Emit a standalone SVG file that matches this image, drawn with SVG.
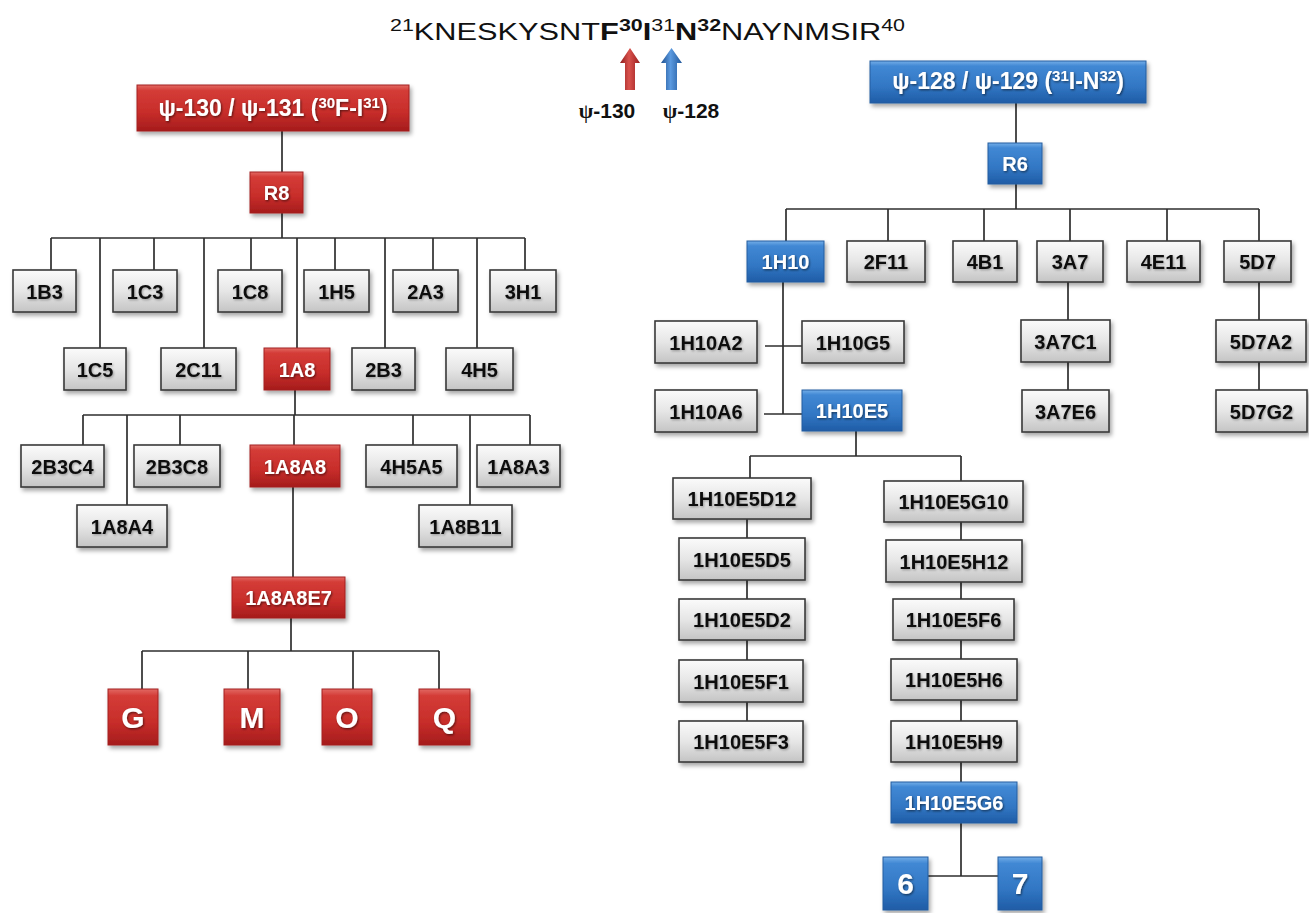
<svg xmlns="http://www.w3.org/2000/svg" width="1309" height="913" viewBox="0 0 1309 913">
<defs>
<linearGradient id="gGray" x1="0" y1="0" x2="0" y2="1">
<stop offset="0" stop-color="#fbfbfb"/><stop offset="0.5" stop-color="#e6e6e6"/><stop offset="1" stop-color="#c4c4c4"/>
</linearGradient>
<linearGradient id="gRed" x1="0" y1="0" x2="0" y2="1">
<stop offset="0" stop-color="#e26a64"/><stop offset="0.12" stop-color="#d43c37"/><stop offset="0.6" stop-color="#c72d2a"/><stop offset="1" stop-color="#a51c1c"/>
</linearGradient>
<linearGradient id="gBlue" x1="0" y1="0" x2="0" y2="1">
<stop offset="0" stop-color="#74aee8"/><stop offset="0.12" stop-color="#4188d4"/><stop offset="0.6" stop-color="#3277c4"/><stop offset="1" stop-color="#1f5ca6"/>
</linearGradient>
<linearGradient id="aRed" x1="0" y1="0" x2="1" y2="0">
<stop offset="0" stop-color="#8e1a1a"/><stop offset="0.45" stop-color="#d9524d"/><stop offset="1" stop-color="#9a1e1e"/>
</linearGradient>
<linearGradient id="aBlue" x1="0" y1="0" x2="1" y2="0">
<stop offset="0" stop-color="#1d4f8f"/><stop offset="0.45" stop-color="#5b9ae0"/><stop offset="1" stop-color="#21579a"/>
</linearGradient>
<filter id="sh" x="-20%" y="-20%" width="140%" height="150%">
<feDropShadow dx="2" dy="3" stdDeviation="2" flood-color="#000" flood-opacity="0.35"/>
</filter>
<filter id="tsh" x="-10%" y="-30%" width="120%" height="160%">
<feDropShadow dx="1" dy="1.2" stdDeviation="0.8" flood-color="#000" flood-opacity="0.55"/>
</filter>
<filter id="tshg" x="-10%" y="-30%" width="120%" height="160%">
<feDropShadow dx="1" dy="1.2" stdDeviation="0.9" flood-color="#000" flood-opacity="0.3"/>
</filter>
</defs>
<style>
.g{fill:url(#gGray);stroke:#3a3a3a;stroke-width:1.6;filter:url(#sh)}
.r{fill:url(#gRed);stroke:#a32020;stroke-width:1;filter:url(#sh)}
.b{fill:url(#gBlue);stroke:#245d9f;stroke-width:1;filter:url(#sh)}
text{font-family:"Liberation Sans",Arial,sans-serif}
.t{font-size:20px;font-weight:bold;text-anchor:middle;fill:#111;filter:url(#tshg)}
.tw{font-size:20px;font-weight:bold;text-anchor:middle;fill:#fff;filter:url(#tsh)}
.big{font-size:30px;font-weight:bold;text-anchor:middle;fill:#fff;filter:url(#tsh)}
.hdr{font-size:23px;font-weight:bold;text-anchor:middle;fill:#fff;filter:url(#tsh)}
.conn line{stroke:#2e2e2e;stroke-width:1.7}
</style>
<rect x="0" y="0" width="1309" height="913" fill="#fff"/>

<g id="title">
<text x="390" y="40" font-size="23" fill="#111" textLength="515" lengthAdjust="spacingAndGlyphs"><tspan font-size="16" dy="-9">21</tspan><tspan dy="9">KNESKYSNT</tspan><tspan font-weight="bold">F</tspan><tspan font-size="16" font-weight="bold" dy="-9">30</tspan><tspan font-weight="bold" dy="9">I</tspan><tspan font-size="16" dy="-9">31</tspan><tspan font-weight="bold" dy="9">N</tspan><tspan font-size="16" font-weight="bold" dy="-9">32</tspan><tspan dy="9">NAYNMSIR</tspan><tspan font-size="16" dy="-9">40</tspan></text>
</g>
<g id="arrow-130">
<path d="M625,90 L625,63 L620,63 L630,48 L640,63 L635,63 L635,90 Z" fill="url(#aRed)"/>
<text x="607" y="118" font-size="21" font-weight="bold" text-anchor="middle" fill="#111"><tspan font-family="Liberation Serif,serif">ψ</tspan>-130</text>
</g>
<g id="arrow-128">
<path d="M666,90 L666,63 L661,63 L671.5,48 L682,63 L677,63 L677,90 Z" fill="url(#aBlue)"/>
<text x="691" y="118" font-size="21" font-weight="bold" text-anchor="middle" fill="#111"><tspan font-family="Liberation Serif,serif">ψ</tspan>-128</text>
</g>

<g class="conn" id="connectors">
<line x1="282" y1="131" x2="282" y2="172"/>
<line x1="282" y1="213" x2="282" y2="238"/>
<line x1="51" y1="238" x2="525" y2="238"/>
<line x1="51" y1="238" x2="51" y2="270"/>
<line x1="154" y1="238" x2="154" y2="270"/>
<line x1="251" y1="238" x2="251" y2="270"/>
<line x1="335" y1="238" x2="335" y2="270"/>
<line x1="433" y1="238" x2="433" y2="270"/>
<line x1="525" y1="238" x2="525" y2="270"/>
<line x1="100" y1="238" x2="100" y2="348"/>
<line x1="204" y1="238" x2="204" y2="348"/>
<line x1="297" y1="238" x2="297" y2="348"/>
<line x1="385" y1="238" x2="385" y2="348"/>
<line x1="477" y1="238" x2="477" y2="348"/>
<line x1="295" y1="390" x2="295" y2="415"/>
<line x1="83" y1="415" x2="530" y2="415"/>
<line x1="83" y1="415" x2="83" y2="445"/>
<line x1="180" y1="415" x2="180" y2="445"/>
<line x1="294" y1="415" x2="294" y2="445"/>
<line x1="413" y1="415" x2="413" y2="445"/>
<line x1="530" y1="415" x2="530" y2="445"/>
<line x1="127" y1="415" x2="127" y2="505"/>
<line x1="470" y1="415" x2="470" y2="505"/>
<line x1="293" y1="487" x2="293" y2="577"/>
<line x1="291" y1="618" x2="291" y2="651"/>
<line x1="142" y1="651" x2="439" y2="651"/>
<line x1="142" y1="651" x2="142" y2="689"/>
<line x1="248" y1="651" x2="248" y2="689"/>
<line x1="353" y1="651" x2="353" y2="689"/>
<line x1="439" y1="651" x2="439" y2="689"/>

<line x1="1016" y1="103" x2="1016" y2="143"/>
<line x1="1016" y1="184" x2="1016" y2="209"/>
<line x1="786" y1="209" x2="1259" y2="209"/>
<line x1="786" y1="209" x2="786" y2="241"/>
<line x1="888" y1="209" x2="888" y2="241"/>
<line x1="984" y1="209" x2="984" y2="241"/>
<line x1="1070" y1="209" x2="1070" y2="241"/>
<line x1="1167" y1="209" x2="1167" y2="241"/>
<line x1="1259" y1="209" x2="1259" y2="241"/>
<line x1="783" y1="282" x2="783" y2="414"/>
<line x1="765" y1="346" x2="802" y2="346"/>
<line x1="764" y1="414" x2="802" y2="414"/>
<line x1="856" y1="431" x2="856" y2="456"/>
<line x1="750" y1="456" x2="961" y2="456"/>
<line x1="750" y1="456" x2="750" y2="478"/>
<line x1="961" y1="456" x2="961" y2="481"/>
<line x1="747" y1="519" x2="747" y2="538"/>
<line x1="747" y1="580" x2="747" y2="599"/>
<line x1="747" y1="640" x2="747" y2="660"/>
<line x1="747" y1="702" x2="747" y2="721"/>
<line x1="961" y1="522" x2="961" y2="540"/>
<line x1="961" y1="582" x2="961" y2="599"/>
<line x1="961" y1="640" x2="961" y2="659"/>
<line x1="961" y1="700" x2="961" y2="721"/>
<line x1="961" y1="762" x2="961" y2="782"/>
<line x1="961" y1="823" x2="961" y2="876"/>
<line x1="928" y1="876" x2="998" y2="876"/>
<line x1="1068" y1="282" x2="1068" y2="320"/>
<line x1="1068" y1="362" x2="1068" y2="390"/>
<line x1="1259" y1="282" x2="1259" y2="320"/>
<line x1="1259" y1="362" x2="1259" y2="390"/>
</g>

<g id="hdr-left"><rect class="r" x="137" y="85" width="272" height="46"/>
<text class="hdr" x="273" y="116">ψ-130 / ψ-131 (<tspan font-size="15" dy="-8">30</tspan><tspan dy="8">F-I</tspan><tspan font-size="15" dy="-8">31</tspan><tspan dy="8">)</tspan></text></g>
<g id="R8"><rect class="r" x="250" y="172" width="53" height="41"/><text class="tw" x="276.5" y="199.5">R8</text></g>
<g id="n1B3"><rect class="g" x="13" y="270" width="63" height="42"/><text class="t" x="44.5" y="298.5">1B3</text></g>
<g id="n1C3"><rect class="g" x="113" y="270" width="64" height="42"/><text class="t" x="145" y="298.5">1C3</text></g>
<g id="n1C8"><rect class="g" x="218" y="270" width="64" height="42"/><text class="t" x="250" y="298.5">1C8</text></g>
<g id="n1H5"><rect class="g" x="304" y="270" width="65" height="42"/><text class="t" x="336.5" y="298.5">1H5</text></g>
<g id="n2A3"><rect class="g" x="393" y="270" width="65" height="42"/><text class="t" x="425.5" y="298.5">2A3</text></g>
<g id="n3H1"><rect class="g" x="490" y="270" width="66" height="42"/><text class="t" x="523" y="298.5">3H1</text></g>
<g id="n1C5"><rect class="g" x="64" y="348" width="62" height="42"/><text class="t" x="95" y="376.5">1C5</text></g>
<g id="n2C11"><rect class="g" x="161" y="348" width="75" height="42"/><text class="t" x="198.5" y="376.5">2C11</text></g>
<g id="n1A8"><rect class="r" x="264" y="348" width="66" height="42"/><text class="tw" x="297" y="376.5">1A8</text></g>
<g id="n2B3"><rect class="g" x="352" y="348" width="63" height="42"/><text class="t" x="383.5" y="376.5">2B3</text></g>
<g id="n4H5"><rect class="g" x="446" y="348" width="67" height="42"/><text class="t" x="479.5" y="376.5">4H5</text></g>
<g id="n2B3C4"><rect class="g" x="21" y="445" width="83" height="42"/><text class="t" x="62.5" y="473.5">2B3C4</text></g>
<g id="n2B3C8"><rect class="g" x="134" y="445" width="86" height="42"/><text class="t" x="177" y="473.5">2B3C8</text></g>
<g id="n1A8A8"><rect class="r" x="250" y="445" width="90" height="42"/><text class="tw" x="295" y="473.5">1A8A8</text></g>
<g id="n4H5A5"><rect class="g" x="366" y="445" width="91" height="42"/><text class="t" x="411.5" y="473.5">4H5A5</text></g>
<g id="n1A8A3"><rect class="g" x="477" y="445" width="83" height="42"/><text class="t" x="518.5" y="473.5">1A8A3</text></g>
<g id="n1A8A4"><rect class="g" x="77" y="505" width="90" height="42"/><text class="t" x="122" y="533.5">1A8A4</text></g>
<g id="n1A8B11"><rect class="g" x="419" y="505" width="93" height="42"/><text class="t" x="465.5" y="533.5">1A8B11</text></g>
<g id="n1A8A8E7"><rect class="r" x="232" y="577" width="113" height="41"/><text class="tw" x="288.5" y="604.5">1A8A8E7</text></g>
<g id="nG"><rect class="r" x="108" y="689" width="50" height="56"/><text class="big" x="133" y="728">G</text></g>
<g id="nM"><rect class="r" x="224" y="689" width="56" height="56"/><text class="big" x="252" y="728">M</text></g>
<g id="nO"><rect class="r" x="322" y="689" width="50" height="56"/><text class="big" x="347" y="728">O</text></g>
<g id="nQ"><rect class="r" x="419" y="689" width="51" height="56"/><text class="big" x="444.5" y="728">Q</text></g>

<g id="hdr-right"><rect class="b" x="870" y="61" width="276" height="42"/>
<text class="hdr" x="1008" y="89">ψ-128 / ψ-129 (<tspan font-size="15" dy="-8">31</tspan><tspan dy="8">I-N</tspan><tspan font-size="15" dy="-8">32</tspan><tspan dy="8">)</tspan></text></g>
<g id="R6"><rect class="b" x="988" y="143" width="54" height="41"/><text class="tw" x="1015" y="170.5">R6</text></g>
<g id="n1H10"><rect class="b" x="747" y="241" width="77" height="41"/><text class="tw" x="785.5" y="268.5">1H10</text></g>
<g id="n2F11"><rect class="g" x="847" y="241" width="78" height="41"/><text class="t" x="886" y="268.5">2F11</text></g>
<g id="n4B1"><rect class="g" x="953" y="241" width="64" height="41"/><text class="t" x="985" y="268.5">4B1</text></g>
<g id="n3A7"><rect class="g" x="1037" y="241" width="66" height="41"/><text class="t" x="1070" y="268.5">3A7</text></g>
<g id="n4E11"><rect class="g" x="1127" y="241" width="73" height="41"/><text class="t" x="1163.5" y="268.5">4E11</text></g>
<g id="n5D7"><rect class="g" x="1224" y="241" width="67" height="41"/><text class="t" x="1257.5" y="268.5">5D7</text></g>
<g id="n1H10A2"><rect class="g" x="655" y="321" width="102" height="42"/><text class="t" x="706" y="349.5">1H10A2</text></g>
<g id="n1H10G5"><rect class="g" x="802" y="321" width="102" height="42"/><text class="t" x="853" y="349.5">1H10G5</text></g>
<g id="n1H10A6"><rect class="g" x="655" y="390" width="102" height="42"/><text class="t" x="706" y="418.5">1H10A6</text></g>
<g id="n1H10E5"><rect class="b" x="802" y="390" width="100" height="41"/><text class="tw" x="852" y="417.5">1H10E5</text></g>
<g id="n3A7C1"><rect class="g" x="1021" y="320" width="89" height="42"/><text class="t" x="1065.5" y="348.5">3A7C1</text></g>
<g id="n3A7E6"><rect class="g" x="1022" y="390" width="87" height="42"/><text class="t" x="1065.5" y="418.5">3A7E6</text></g>
<g id="n5D7A2"><rect class="g" x="1216" y="320" width="90" height="42"/><text class="t" x="1261" y="348.5">5D7A2</text></g>
<g id="n5D7G2"><rect class="g" x="1216" y="390" width="91" height="42"/><text class="t" x="1261.5" y="418.5">5D7G2</text></g>
<g id="n1H10E5D12"><rect class="g" x="673" y="478" width="138" height="41"/><text class="t" x="742" y="505.5">1H10E5D12</text></g>
<g id="n1H10E5D5"><rect class="g" x="679" y="538" width="126" height="42"/><text class="t" x="742" y="566.5">1H10E5D5</text></g>
<g id="n1H10E5D2"><rect class="g" x="679" y="599" width="126" height="41"/><text class="t" x="742" y="626.5">1H10E5D2</text></g>
<g id="n1H10E5F1"><rect class="g" x="679" y="660" width="124" height="42"/><text class="t" x="741" y="688.5">1H10E5F1</text></g>
<g id="n1H10E5F3"><rect class="g" x="679" y="721" width="124" height="41"/><text class="t" x="741" y="748.5">1H10E5F3</text></g>
<g id="n1H10E5G10"><rect class="g" x="884" y="481" width="139" height="41"/><text class="t" x="953.5" y="508.5">1H10E5G10</text></g>
<g id="n1H10E5H12"><rect class="g" x="886" y="540" width="136" height="42"/><text class="t" x="954" y="568.5">1H10E5H12</text></g>
<g id="n1H10E5F6"><rect class="g" x="893" y="599" width="121" height="41"/><text class="t" x="953.5" y="626.5">1H10E5F6</text></g>
<g id="n1H10E5H6"><rect class="g" x="891" y="659" width="126" height="41"/><text class="t" x="954" y="686.5">1H10E5H6</text></g>
<g id="n1H10E5H9"><rect class="g" x="891" y="721" width="126" height="41"/><text class="t" x="954" y="748.5">1H10E5H9</text></g>
<g id="n1H10E5G6"><rect class="b" x="891" y="782" width="126" height="41"/><text class="tw" x="954" y="809.5">1H10E5G6</text></g>
<g id="n6"><rect class="b" x="883" y="857" width="45" height="53"/><text class="big" x="905.5" y="894">6</text></g>
<g id="n7"><rect class="b" x="998" y="857" width="44" height="53"/><text class="big" x="1020" y="894">7</text></g>
</svg>
